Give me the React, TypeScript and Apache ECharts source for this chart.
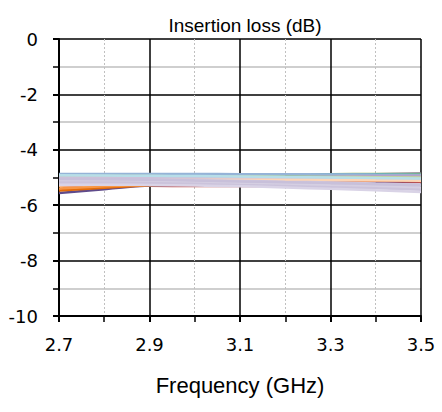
import React, { useEffect, useRef } from "react";
import * as echarts from "echarts";

const freqs = [2.7, 2.8, 2.9, 3.0, 3.1, 3.2, 3.3, 3.4, 3.5];
const yTicks = [0, -2, -4, -6, -8, -10];
const xTicks = [2.7, 2.9, 3.1, 3.3, 3.5];

const traceColors = [
  "#c0504d", "#5f4b8b", "#e46c0a", "#f79646", "#fac090",
  "#8064a2", "#9bbb59", "#4bacc6", "#95b3d7", "#b3a2c7",
  "#c3d69b", "#d99694", "#ccc1da", "#fcd5b5", "#b7dee8",
  "#c6b9d8", "#d0c8e0", "#cfc6dd", "#d5cfe2", "#cbc3db",
  "#d9d3e6", "#c8c0da",
];

const traceValues = [
  [-5.3, -5.3, -5.3, -5.31, -5.31, -5.28, -5.24, -5.2, -5.16],
  [-5.56, -5.42, -5.29, -5.25, -5.22, -5.2, -5.17, -5.14, -5.12],
  [-5.47, -5.37, -5.28, -5.24, -5.21, -5.18, -5.15, -5.12, -5.1],
  [-5.4, -5.32, -5.26, -5.22, -5.19, -5.16, -5.13, -5.1, -5.08],
  [-5.3, -5.25, -5.2, -5.17, -5.14, -5.12, -5.1, -5.07, -5.05],
  [-5.05, -5.02, -5.0, -4.97, -4.95, -4.92, -4.9, -4.88, -4.86],
  [-4.98, -4.96, -4.94, -4.92, -4.9, -4.89, -4.88, -4.87, -4.87],
  [-4.9, -4.9, -4.9, -4.9, -4.89, -4.89, -4.89, -4.89, -4.9],
  [-4.87, -4.87, -4.87, -4.87, -4.88, -4.88, -4.89, -4.9, -4.92],
  [-5.1, -5.08, -5.06, -5.05, -5.04, -5.0, -4.97, -4.95, -4.94],
  [-4.95, -4.95, -4.95, -4.96, -4.96, -4.97, -4.98, -4.99, -5.0],
  [-5.2, -5.18, -5.16, -5.14, -5.12, -5.11, -5.1, -5.1, -5.1],
  [-5.0, -5.0, -5.01, -5.02, -5.03, -5.03, -5.04, -5.05, -5.06],
  [-5.15, -5.12, -5.1, -5.09, -5.08, -5.08, -5.09, -5.1, -5.12],
  [-4.92, -4.93, -4.94, -4.95, -4.96, -4.98, -5.0, -5.02, -5.04],
  [-5.22, -5.2, -5.18, -5.18, -5.18, -5.2, -5.22, -5.24, -5.26],
  [-5.08, -5.08, -5.09, -5.1, -5.12, -5.15, -5.18, -5.22, -5.26],
  [-5.25, -5.24, -5.23, -5.23, -5.24, -5.26, -5.29, -5.32, -5.36],
  [-5.12, -5.13, -5.15, -5.18, -5.21, -5.24, -5.28, -5.32, -5.38],
  [-5.18, -5.18, -5.2, -5.23, -5.27, -5.31, -5.35, -5.39, -5.44],
  [-5.26, -5.26, -5.27, -5.29, -5.32, -5.36, -5.41, -5.46, -5.52],
  [-5.05, -5.06, -5.08, -5.11, -5.14, -5.17, -5.2, -5.24, -5.28],
];

export default function App() {
  const ref = useRef<HTMLDivElement>(null);
  useEffect(() => {
    if (!ref.current) return;
    const chart = echarts.init(ref.current, null, { renderer: "svg" });
    const series = traceValues.map((vals, i) => ({
      type: "line",
      name: "S" + (i + 1),
      data: vals.map((v, j) => [freqs[j], v]),
      showSymbol: false,
      symbol: "none",
      smooth: true,
      lineStyle: { color: traceColors[i], width: 2.5 },
      itemStyle: { color: traceColors[i] },
      silent: true,
    }));
    chart.setOption({
      animation: false,
      title: {
        text: "Insertion loss (dB)",
        left: 240,
        textAlign: "center",
        top: 11,
        textStyle: {
          fontFamily: "Liberation Sans",
          fontSize: 19,
          fontWeight: "normal",
          color: "#000",
        },
      },
      grid: { left: 59, right: 21, top: 39, bottom: 96, containLabel: false },
      xAxis: {
        type: "value",
        min: xTicks[0],
        max: xTicks[xTicks.length - 1],
        interval: 0.2,
        name: "Frequency (GHz)",
        nameLocation: "middle",
        nameGap: 58,
        nameTextStyle: {
          fontFamily: "Liberation Sans",
          fontSize: 22,
          color: "#000",
        },
        axisLine: { show: true, onZero: false, lineStyle: { color: "#000", width: 2 } },
        axisTick: { show: true, length: 6, lineStyle: { color: "#000", width: 2 } },
        minorTick: { show: true, splitNumber: 2, length: 6, lineStyle: { color: "#000", width: 1.5 } },
        splitLine: { show: true, lineStyle: { color: "#000", width: 1.5 } },
        minorSplitLine: { show: true, lineStyle: { color: "#c0c0c0", width: 1, type: [2, 2] } },
        axisLabel: {
          margin: 19,
          fontFamily: "DejaVu Sans",
          fontSize: 18,
          color: "#000",
          formatter: (v: number) => v.toFixed(1),
        },
      },
      yAxis: {
        type: "value",
        min: yTicks[yTicks.length - 1],
        max: yTicks[0],
        interval: 2,
        axisLine: { show: true, onZero: false, lineStyle: { color: "#000", width: 2 } },
        axisTick: { show: true, length: 6, lineStyle: { color: "#000", width: 2 } },
        minorTick: { show: true, splitNumber: 2, length: 6, lineStyle: { color: "#000", width: 1.5 } },
        splitLine: { show: true, lineStyle: { color: "#000", width: 1.5 } },
        minorSplitLine: { show: true, lineStyle: { color: "#bfbfbf", width: 1.5 } },
        axisLabel: {
          margin: 21,
          fontFamily: "DejaVu Sans",
          fontSize: 18,
          color: "#000",
        },
      },
      series,
    });
    return () => chart.dispose();
  }, []);
  return <div ref={ref} style={{ width: 442, height: 412, position: "absolute", left: 0, top: 0 }} />;
}
